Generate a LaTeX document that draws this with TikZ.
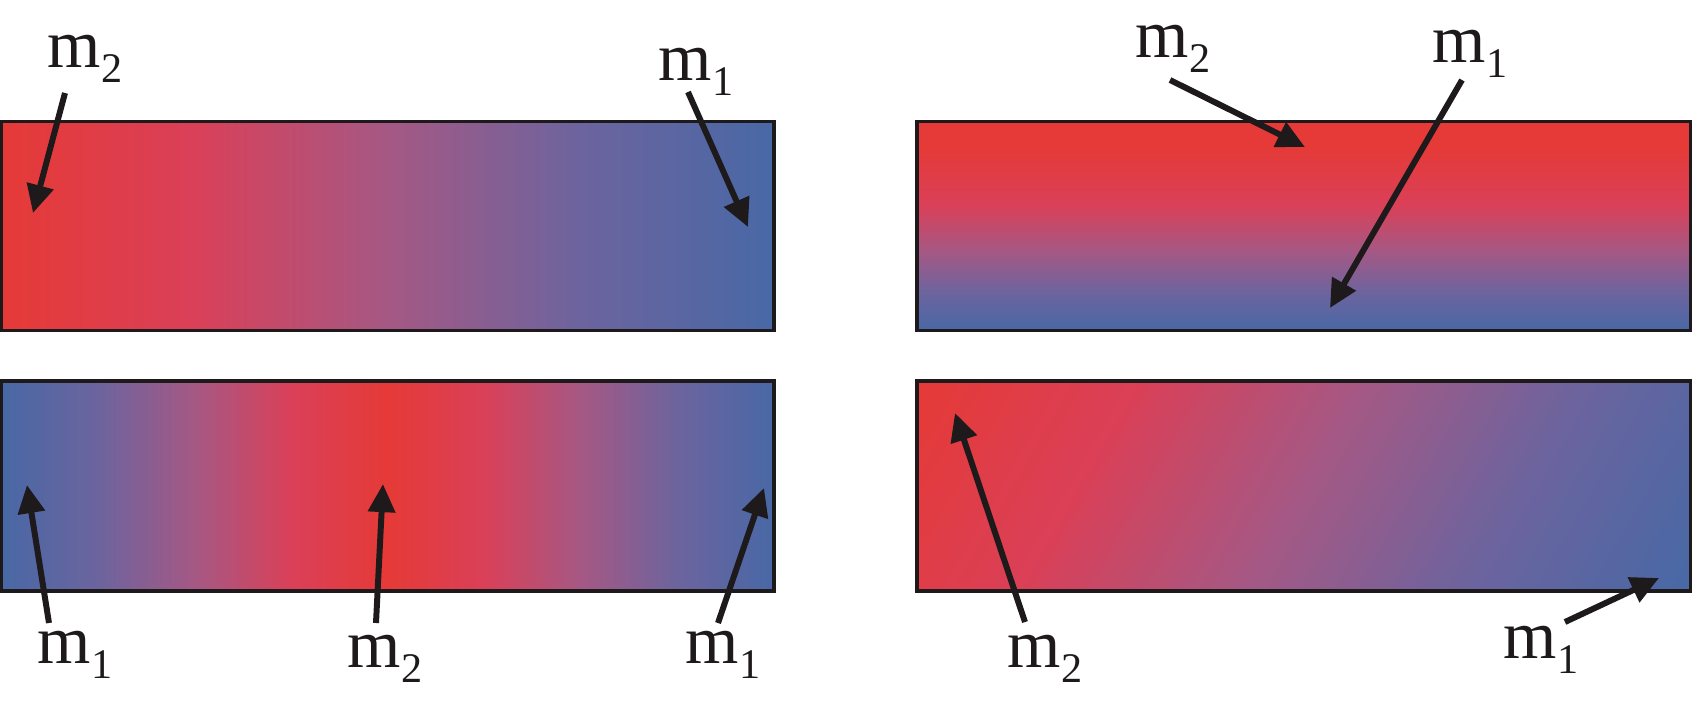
\documentclass[tikz,border=0pt]{standalone}
\usepackage{fontspec}
\setmainfont{Liberation Serif}
\usetikzlibrary{arrows.meta}

\definecolor{mred}{RGB}{229,58,55}
\definecolor{mpink}{RGB}{218,64,88}
\definecolor{mmid}{RGB}{165,88,132}
\definecolor{mviolet}{RGB}{108,100,158}
\definecolor{mblue}{RGB}{72,104,166}
\definecolor{mdark}{RGB}{30,26,27}

% the path is fitted into the middle 50bp, so the stops run from 25bp to 75bp
\pgfdeclarehorizontalshading{redblue}{100bp}{color(0bp)=(mred); color(25bp)=(mred);
  color(37.5bp)=(mpink); color(50bp)=(mmid); color(62.5bp)=(mviolet);
  color(75bp)=(mblue); color(100bp)=(mblue)}
\pgfdeclareverticalshading{bluered}{100bp}{color(0bp)=(mblue); color(25bp)=(mblue);
  color(34bp)=(mviolet); color(44bp)=(mmid); color(55bp)=(mpink);
  color(69bp)=(mred); color(100bp)=(mred)}
\pgfdeclarehorizontalshading{blueredblue}{100bp}{color(0bp)=(mblue); color(25bp)=(mblue);
  color(31.25bp)=(mviolet); color(37.5bp)=(mmid); color(43.75bp)=(mpink);
  color(50bp)=(mred); color(56.25bp)=(mpink); color(62.5bp)=(mmid);
  color(68.75bp)=(mviolet); color(75bp)=(mblue); color(100bp)=(mblue)}

% label m with a lowered index
\newcommand\mlab[1]{m\raisebox{-4.5pt}{\fontsize{12}{12}\selectfont #1}}

\tikzset{
  lbl/.style={font=\fontsize{19.5}{22}\selectfont, text=mdark, inner sep=0pt, anchor=base west},
  arr/.style={draw=mdark, line width=1.7pt, -{Triangle[length=8pt,width=7.5pt]}},
  box/.style={draw=mdark, line width=0.9pt}
}

\begin{document}
\begin{tikzpicture}
\useasboundingbox (0,0) rectangle (16.93,7.06);

% top left: red -> blue from left to right
\shade[box, shading=redblue] (0.015,3.755) rectangle (7.74,5.845);
% top right: red on top, blue below
\shade[box, shading=bluered] (9.17,3.755) rectangle (16.905,5.845);
% bottom left: blue at both ends, red in the middle
\shade[box, shading=blueredblue] (0.015,1.15) rectangle (7.74,3.25);
% bottom right: red corner at top left, blue corner at bottom right.
% We fill thin stripes across the diagonal and set the colour of each
% one by hand, going red -> pink -> mid -> violet -> blue.
\begin{scope}
  \clip (9.17,1.15) rectangle (16.905,3.25);
  \begin{scope}[shift={(9.17,3.25)}, rotate=-30]
    \foreach \i in {0,1,...,79} {
      \pgfmathsetmacro\frac{4*\i/79}
      \pgfmathsetmacro\sa{min(max(\frac,0),1)}
      \pgfmathsetmacro\sb{min(max(\frac-1,0),1)}
      \pgfmathsetmacro\sc{min(max(\frac-2,0),1)}
      \pgfmathsetmacro\sd{min(max(\frac-3,0),1)}
      \pgfmathsetmacro\rc{(229-11*\sa-53*\sb-57*\sc-36*\sd)/255}
      \pgfmathsetmacro\gc{(58+6*\sa+24*\sb+12*\sc+4*\sd)/255}
      \pgfmathsetmacro\bc{(55+33*\sa+44*\sb+26*\sc+8*\sd)/255}
      \definecolor{currentcolor}{rgb}{\rc,\gc,\bc}
      \fill[currentcolor] ({\i*0.0969},-5) rectangle ({(\i+1)*0.0969+0.02},5);
    }
  \end{scope}
\end{scope}
\draw[box] (9.17,1.15) rectangle (16.905,3.25);

% labels
\node[lbl] (tlm2) at (0.47,6.39) {\mlab{2}};
\node[lbl] (tlm1) at (6.58,6.26) {\mlab{1}};
\node[lbl] (trm2) at (11.35,6.49) {\mlab{2}};
\node[lbl] (trm1) at (14.32,6.44) {\mlab{1}};
\node[lbl] (blm1a) at (0.37,0.43) {\mlab{1}};
\node[lbl] (blm2) at (3.47,0.39) {\mlab{2}};
\node[lbl] (blm1b) at (6.85,0.43) {\mlab{1}};
\node[lbl] (brm2) at (10.07,0.39) {\mlab{2}};
\node[lbl] (brm1) at (15.03,0.48) {\mlab{1}};

% arrow ends
\coordinate (tlm2s) at (0.65,6.13);   \coordinate (tlm2t) at (0.33,4.93);
\coordinate (tlm1s) at (6.88,6.14);   \coordinate (tlm1t) at (7.48,4.79);
\coordinate (trm2s) at (11.70,6.26);  \coordinate (trm2t) at (13.05,5.59);
\coordinate (trm1s) at (14.62,6.26);  \coordinate (trm1t) at (13.30,3.98);
\coordinate (blm1as) at (0.49,0.83);  \coordinate (blm1at) at (0.27,2.21);
\coordinate (blm2s) at (3.76,0.83);   \coordinate (blm2t) at (3.83,2.22);
\coordinate (blm1bs) at (7.18,0.83);  \coordinate (blm1bt) at (7.64,2.18);
\coordinate (brm2s) at (10.25,0.84);  \coordinate (brm2t) at (9.55,2.93);
\coordinate (brm1s) at (15.65,0.84);  \coordinate (brm1t) at (16.59,1.28);

\foreach \a in {tlm2,tlm1,trm2,trm1,blm1a,blm2,blm1b,brm2,brm1}
  \draw[arr] (\a s) -- (\a t);
\end{tikzpicture}
\end{document}
